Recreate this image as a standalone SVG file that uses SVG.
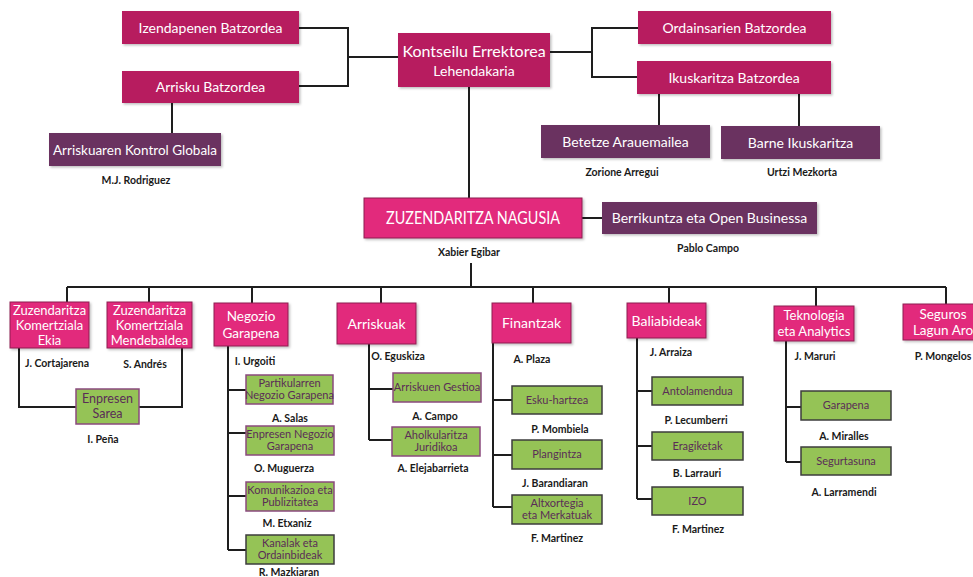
<svg xmlns="http://www.w3.org/2000/svg" width="973" height="577" viewBox="0 0 973 577">
<defs>
<filter id="sh" x="-10%" y="-10%" width="130%" height="140%"><feDropShadow dx="1.5" dy="1.5" stdDeviation="1" flood-color="#000" flood-opacity="0.25"/></filter>
<style>
.bg{fill:#ffffff}
.top{fill:#b71c5f;filter:url(#sh)}
.pink{fill:#e2297b;stroke:#8e1f52;stroke-width:1;filter:url(#sh)}
.purp{fill:#6a3360;filter:url(#sh)}
.grn{fill:#95c356;stroke:#8a4a7e;stroke-width:1.5}
.grn2{fill:#95c356;stroke:#3d3d3d;stroke-width:1.5}
.wt{fill:#ffffff;font-family:Lato,"Open Sans","Liberation Sans",sans-serif;text-anchor:middle}
.gt{fill:#5a2d56;font-family:Lato,"Open Sans","Liberation Sans",sans-serif;text-anchor:middle;font-size:11px}
.nm{fill:#1a1a1a;font-family:Lato,"Open Sans","Liberation Sans",sans-serif;text-anchor:middle;font-size:10.5px;font-weight:bold}
.ln{fill:none;stroke:#1e1e1e;stroke-width:2}
</style>
</defs>
<rect class="bg" x="0" y="0" width="973" height="577"/>
<g id="connectors" class="ln">
<path d="M299,28 H348 V86 H299 M348,57 H398"/>
<path d="M550,52 H592 M638,28 H592 V77 H637"/>
<path d="M659,94 V125 M799,94 V126"/>
<path d="M172,103 V133"/>
<path d="M469,87 V198"/>
<path d="M582,218 H602"/>
<path d="M471,263 V287 M67,287 H946"/>
<path d="M67,287 V302 M149,287 V302 M252,287 V303 M381,287 V303 M533,287 V303 M669,287 V303 M816,287 V306 M946,287 V304"/>
<path d="M19,348 V407 H76 M182,348 V407 H139"/>
<path d="M228,346 V550 M228,390 H246 M228,433 H246 M228,496 H246 M228,550 H246"/>
<path d="M369,344 V440 M369,389 H393 M369,440 H392"/>
<path d="M493,343 V507 M493,400 H512 M493,455 H512 M493,507 H512"/>
<path d="M637,338 V499 M637,391 H652 M637,446 H652 M637,499 H652"/>
<path d="M786,341 V462 M786,407 H801 M786,462 H801"/>
</g>
<g id="izendapenen"><rect class="top" x="122" y="11" width="177" height="33"/><text class="wt" x="210.5" y="32.5" font-size="14">Izendapenen Batzordea</text></g>
<g id="arrisku-batzordea"><rect class="top" x="122" y="71" width="177" height="32"/><text class="wt" x="210.5" y="92" font-size="14">Arrisku Batzordea</text></g>
<g id="kontseilu"><rect class="top" x="398" y="33" width="152" height="54"/><text class="wt" x="474" y="56.5" font-size="16">Kontseilu Errektorea</text><text class="wt" x="474" y="76" font-size="14">Lehendakaria</text></g>
<g id="ordainsarien"><rect class="top" x="638" y="11" width="193" height="33"/><text class="wt" x="734.5" y="32.5" font-size="14">Ordainsarien Batzordea</text></g>
<g id="ikuskaritza"><rect class="top" x="637" y="61" width="194" height="33"/><text class="wt" x="734" y="82.5" font-size="14">Ikuskaritza Batzordea</text></g>
<g id="betetze"><rect class="purp" x="541" y="125" width="169" height="33"/><text class="wt" x="625.5" y="146.5" font-size="14">Betetze Arauemailea</text><text class="nm" x="622" y="175.5">Zorione Arregui</text></g>
<g id="barne"><rect class="purp" x="721" y="126" width="159" height="33"/><text class="wt" x="800.5" y="147.5" font-size="14">Barne Ikuskaritza</text><text class="nm" x="802" y="175.5">Urtzi Mezkorta</text></g>
<g id="kontrol-globala"><rect class="purp" x="49" y="133" width="172" height="33"/><text class="wt" x="135" y="154.5" font-size="13.5">Arriskuaren Kontrol Globala</text><text class="nm" x="136" y="183.5">M.J. Rodriguez</text></g>
<g id="zuzendaritza-nagusia"><rect class="pink" x="364" y="198" width="218" height="40"/><text class="wt" x="473" y="224" font-size="17" textLength="174" lengthAdjust="spacingAndGlyphs">ZUZENDARITZA NAGUSIA</text><text class="nm" x="469" y="255.5">Xabier Egibar</text></g>
<g id="berrikuntza"><rect class="purp" x="602" y="202" width="215" height="32"/><text class="wt" x="709.5" y="223" font-size="14">Berrikuntza eta Open Businessa</text><text class="nm" x="708" y="251.5">Pablo Campo</text></g>
<g id="ekia"><rect class="pink" x="10" y="302" width="79" height="46"/><text class="wt" x="49.5" y="314.5" font-size="13">Zuzendaritza</text><text class="wt" x="49.5" y="329.5" font-size="13">Komertziala</text><text class="wt" x="49.5" y="344.5" font-size="13">Ekia</text><text class="nm" x="57" y="366.5">J. Cortajarena</text></g>
<g id="mendebaldea"><rect class="pink" x="107" y="302" width="85" height="46"/><text class="wt" x="149.5" y="314.5" font-size="13">Zuzendaritza</text><text class="wt" x="149.5" y="329.5" font-size="13">Komertziala</text><text class="wt" x="149.5" y="344.5" font-size="13">Mendebaldea</text><text class="nm" x="145" y="367.5">S. Andrés</text></g>
<g id="enpresen-sarea"><rect class="grn" x="76" y="389" width="63" height="35"/><text class="gt" x="107.5" y="403" style="font-size:12.5px">Enpresen</text><text class="gt" x="107.5" y="418" style="font-size:12.5px">Sarea</text><text class="nm" x="103" y="442.5">I. Peña</text></g>
<g id="negozio-garapena"><rect class="pink" x="214" y="303" width="74" height="43"/><text class="wt" x="251" y="321" font-size="13.5">Negozio</text><text class="wt" x="251" y="337.5" font-size="13.5">Garapena</text><text class="nm" x="255" y="364.5">I. Urgoiti</text></g>
<g id="partikularren"><rect class="grn" x="246" y="375" width="87" height="29"/><text class="gt" x="289.5" y="387">Partikularren</text><text class="gt" x="289.5" y="399">Negozio Garapena</text><text class="nm" x="290" y="421.5">A. Salas</text></g>
<g id="enpresen-negozio"><rect class="grn" x="246" y="426" width="88" height="29"/><text class="gt" x="290" y="438">Enpresen Negozio</text><text class="gt" x="290" y="450">Garapena</text><text class="nm" x="284" y="471.5">O. Muguerza</text></g>
<g id="komunikazioa"><rect class="grn" x="246" y="482" width="88" height="29"/><text class="gt" x="290" y="494">Komunikazioa eta</text><text class="gt" x="290" y="506">Publizitatea</text><text class="nm" x="287" y="526.5">M. Etxaniz</text></g>
<g id="kanalak"><rect class="grn2" x="246" y="535" width="88" height="29"/><text class="gt" x="290" y="547">Kanalak eta</text><text class="gt" x="290" y="559">Ordainbideak</text><text class="nm" x="289" y="576">R. Mazkiaran</text></g>
<g id="arriskuak"><rect class="pink" x="337" y="303" width="79" height="41"/><text class="wt" x="376.5" y="328.5" font-size="14">Arriskuak</text><text class="nm" x="398" y="359.5">O. Eguskiza</text></g>
<g id="arriskuen-gestioa"><rect class="grn" x="393" y="373" width="88" height="29"/><text class="gt" x="437" y="391">Arriskuen Gestioa</text><text class="nm" x="435" y="419.5">A. Campo</text></g>
<g id="aholkularitza"><rect class="grn" x="392" y="427" width="88" height="29"/><text class="gt" x="436" y="439">Aholkularitza</text><text class="gt" x="436" y="451">Juridikoa</text><text class="nm" x="433" y="471.5">A. Elejabarrieta</text></g>
<g id="finantzak"><rect class="pink" x="492" y="303" width="79" height="40"/><text class="wt" x="531.5" y="328" font-size="14">Finantzak</text><text class="nm" x="532" y="362.5">A. Plaza</text></g>
<g id="esku-hartzea"><rect class="grn2" x="512" y="386" width="90" height="28"/><text class="gt" x="557" y="403.5">Esku-hartzea</text><text class="nm" x="560" y="432.5">P. Mombiela</text></g>
<g id="plangintza"><rect class="grn2" x="512" y="440" width="90" height="29"/><text class="gt" x="557" y="458">Plangintza</text><text class="nm" x="555" y="486.5">J. Barandiaran</text></g>
<g id="altxortegia"><rect class="grn2" x="512" y="495" width="90" height="29"/><text class="gt" x="557" y="507">Altxortegia</text><text class="gt" x="557" y="519">eta Merkatuak</text><text class="nm" x="557" y="541.5">F. Martinez</text></g>
<g id="baliabideak"><rect class="pink" x="627" y="303" width="79" height="35"/><text class="wt" x="666.5" y="325.5" font-size="14">Baliabideak</text><text class="nm" x="671" y="355.5">J. Arraiza</text></g>
<g id="antolamendua"><rect class="grn2" x="652" y="377" width="91" height="28"/><text class="gt" x="697.5" y="394.5">Antolamendua</text><text class="nm" x="696" y="423.5">P. Lecumberri</text></g>
<g id="eragiketak"><rect class="grn2" x="652" y="432" width="91" height="28"/><text class="gt" x="697.5" y="449.5">Eragiketak</text><text class="nm" x="697" y="476.5">B. Larrauri</text></g>
<g id="izo"><rect class="grn2" x="652" y="487" width="91" height="28"/><text class="gt" x="697.5" y="504.5">IZO</text><text class="nm" x="698" y="532.5">F. Martinez</text></g>
<g id="teknologia"><rect class="pink" x="774" y="306" width="80" height="35"/><text class="wt" x="814" y="320" font-size="13">Teknologia</text><text class="wt" x="814" y="335.5" font-size="13">eta Analytics</text><text class="nm" x="815" y="359.5">J. Maruri</text></g>
<g id="garapena"><rect class="grn2" x="801" y="391" width="90" height="29"/><text class="gt" x="846" y="409">Garapena</text><text class="nm" x="844" y="439.5">A. Miralles</text></g>
<g id="segurtasuna"><rect class="grn2" x="801" y="447" width="90" height="28"/><text class="gt" x="846" y="464.5">Segurtasuna</text><text class="nm" x="844" y="495.5">A. Larramendi</text></g>
<g id="seguros"><rect class="pink" x="903" y="304" width="75" height="36"/><text class="wt" x="943" y="319" font-size="13.5">Seguros</text><text class="wt" x="943" y="335" font-size="13.5">Lagun Aro</text><text class="nm" x="943" y="359.5">P. Mongelos</text></g>
</svg>
